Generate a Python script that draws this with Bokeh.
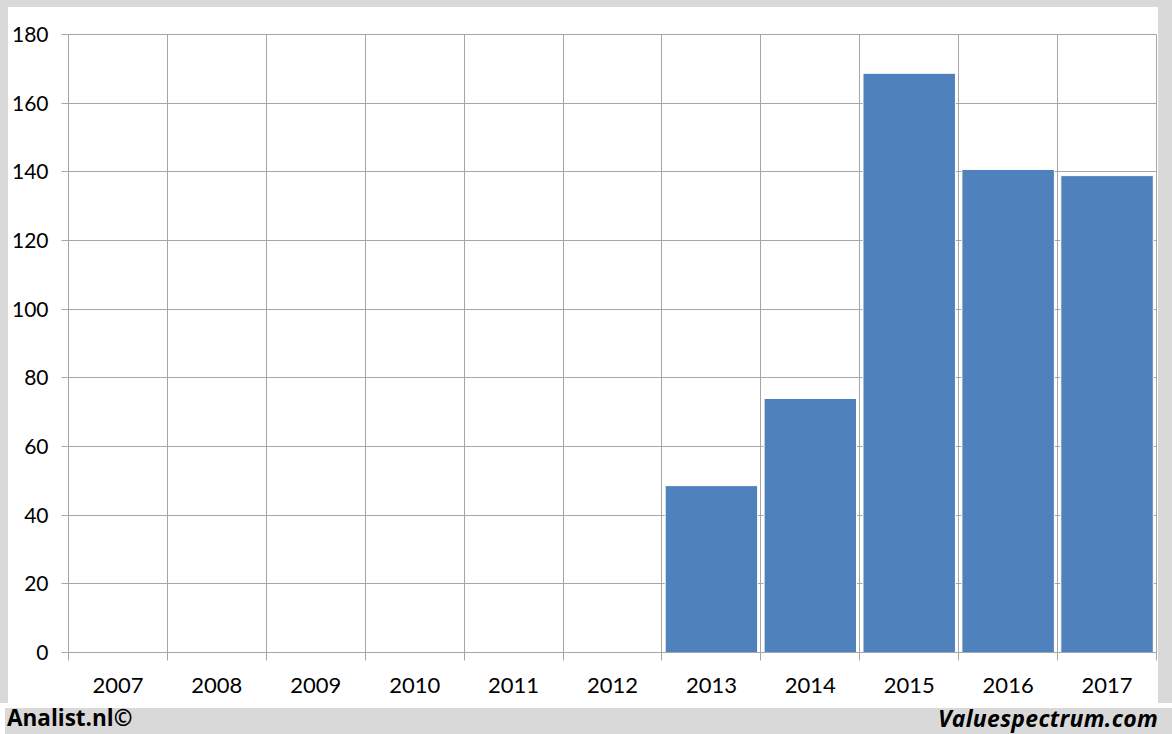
from bokeh.plotting import figure
from bokeh.models import FixedTicker, Range1d, Div, Spacer
from bokeh.layouts import column, row
from bokeh.embed import file_html
from bokeh.resources import INLINE

years = ["2007", "2008", "2009", "2010", "2011", "2012", "2013", "2014", "2015", "2016", "2017"]
bar_years = ["2013", "2014", "2015", "2016", "2017"]
bar_values = [48.6, 74.0, 168.7, 140.7, 138.9]
y_ticks = [0, 20, 40, 60, 80, 100, 120, 140, 160, 180]

GRID = "#a6a6a6"
GRAY = "#d9d9d9"
FONT = "Lato"

x = [years.index(y) for y in bar_years]
boundaries = [i - 0.5 for i in range(len(years) + 1)]

p = figure(width=1150, height=696, x_range=Range1d(-0.5, len(years) - 0.5),
           y_range=Range1d(0, 180), output_backend="svg", toolbar_location=None,
           min_border_left=60, min_border_right=2, min_border_top=27, min_border_bottom=51)

p.background_fill_color = "white"
p.border_fill_color = "white"
p.outline_line_color = GRID

p.vbar(x=x, top=bar_values, bottom=0, width=0.935, fill_color="#4f81bd",
       line_color="white", line_width=1)

# x axis
p.xaxis.ticker = FixedTicker(ticks=list(range(len(years))), minor_ticks=boundaries)
p.xaxis.major_label_overrides = {i: y for i, y in enumerate(years)}
p.xaxis.major_tick_out = 0
p.xaxis.major_tick_in = 0
p.xaxis.minor_tick_out = 8
p.xaxis.minor_tick_in = 0
p.xaxis.minor_tick_line_color = GRID
p.xaxis.axis_line_color = GRID
p.xaxis.major_label_standoff = 17
p.xaxis.major_label_text_font = FONT
p.xaxis.major_label_text_font_size = "22px"
p.xaxis.major_label_text_color = "black"

# y axis
p.yaxis.ticker = FixedTicker(ticks=y_ticks)
p.yaxis.major_tick_out = 7
p.yaxis.major_tick_in = 0
p.yaxis.major_tick_line_color = GRID
p.yaxis.minor_tick_line_color = None
p.yaxis.axis_line_color = GRID
p.yaxis.major_label_standoff = 13
p.yaxis.major_label_text_font = FONT
p.yaxis.major_label_text_font_size = "21px"
p.yaxis.major_label_text_color = "black"

# grids
p.xgrid.ticker = FixedTicker(ticks=boundaries)
p.xgrid.grid_line_color = GRID
p.ygrid.grid_line_color = GRID

bg = {"background-color": GRAY}
top_sp = Spacer(width=1172, height=7, styles=bg)
left_sp = Spacer(width=8, height=696, styles=bg)
right_sp = Spacer(width=14, height=696, styles=bg)

footer = Div(
    text=('<div style="position:relative;width:1172px;height:31px;">'
          '<span style="position:absolute;left:2px;top:-2px;font-family:\'Open Sans\';font-weight:bold;'
          'font-size:22.5px;line-height:23px;color:black;white-space:nowrap;">Analist.nl©</span>'
          '<span style="position:absolute;right:19px;top:-1px;font-family:\'Open Sans\';font-weight:bold;'
          'font-style:italic;font-size:23px;line-height:23px;letter-spacing:0.3px;color:black;'
          'white-space:nowrap;">Valuespectrum.com</span>'
          '</div>'),
    width=1172, height=31,
    styles=bg,
)

layout = column(top_sp, row(left_sp, p, right_sp, spacing=0), footer, spacing=0)

open("out.html", "w").write(file_html(layout, INLINE))
